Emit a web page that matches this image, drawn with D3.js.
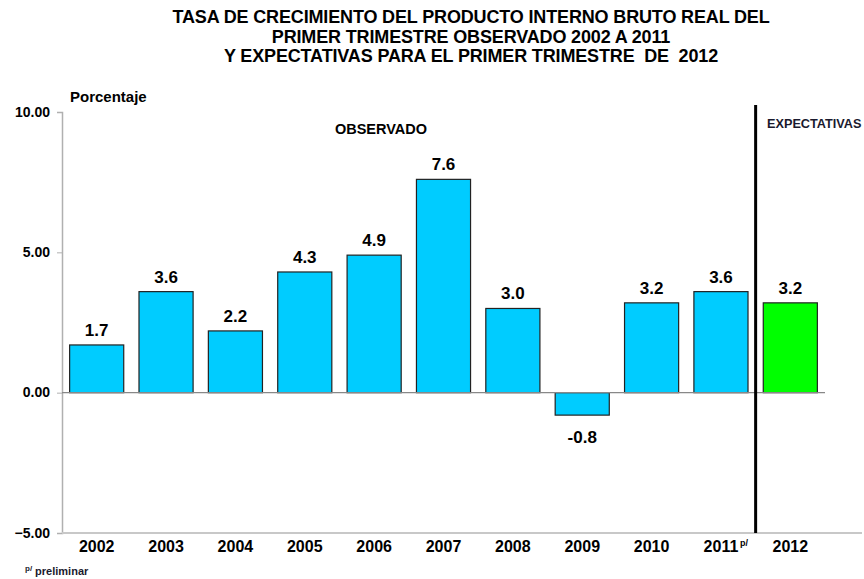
<!DOCTYPE html>
<html>
<head>
<meta charset="utf-8">
<script src="https://cdn.jsdelivr.net/npm/d3@7"></script>
<style>
  body { margin: 0; background: #fff; }
  svg { display: block; font-family: "Liberation Sans", Arial, sans-serif; }
</style>
</head>
<body>
<div id="chart"></div>
<script>
// data
const years = ["2002", "2003", "2004", "2005", "2006", "2007", "2008", "2009", "2010", "2011", "2012"];
const growth = [1.7, 3.6, 2.2, 4.3, 4.9, 7.6, 3.0, -0.8, 3.2, 3.6, 3.2];
const kind = ["obs", "obs", "obs", "obs", "obs", "obs", "obs", "obs", "obs", "obs", "exp"];
const yTicks = [10, 5, 0, -5];
const titleLines = [
    "TASA DE CRECIMIENTO DEL PRODUCTO INTERNO BRUTO REAL DEL",
    "PRIMER TRIMESTRE OBSERVADO 2002 A 2011",
    "Y EXPECTATIVAS PARA EL PRIMER TRIMESTRE  DE  2012"
];

const W = 864, H = 579;
const margin = { top: 112, right: 40, bottom: 46, left: 62 };
const width = 825 - margin.left;
const height = H - margin.top - margin.bottom;

const colors = { obs: "#00ccff", exp: "#00ff00" };

const svg = d3.select("#chart")
    .append("svg")
    .attr("width", W)
    .attr("height", H);

// title
svg.append("g")
    .selectAll("text")
    .data(titleLines)
    .enter()
    .append("text")
    .attr("x", 471)
    .attr("y", (d, i) => 23 + i * 19.5)
    .attr("text-anchor", "middle")
    .style("font-size", "18px")
    .style("font-weight", "bold")
    .style("letter-spacing", "-0.15px")
    .style("white-space", "pre")
    .text(d => d);

const g = svg.append("g")
    .attr("transform", `translate(${margin.left},${margin.top})`);

const x = d3.scaleBand()
    .domain(years)
    .range([0, width])
    .paddingInner(0.22)
    .paddingOuter(0.11);

const y = d3.scaleLinear()
    .domain([-5, 10])
    .range([height, 0]);

// y axis
const yAxis = d3.axisLeft(y)
    .tickValues(yTicks)
    .tickFormat(d3.format(".2f"))
    .tickSize(5)
    .tickPadding(7);

const ya = g.append("g").call(yAxis);
ya.select(".domain").attr("stroke", "#b0b0b0").attr("stroke-width", 1.5);
ya.selectAll(".tick line").attr("stroke", "#b0b0b0");
ya.selectAll(".tick text")
    .style("font-size", "14px")
    .style("font-weight", "bold")
    .attr("fill", "#000")
    .attr("dy", "0.3em");

// bottom line (at -5)
g.append("line")
    .attr("x1", 0)
    .attr("x2", 862 - margin.left)
    .attr("y1", y(-5))
    .attr("y2", y(-5))
    .attr("stroke", "#c8c8c8")
    .attr("stroke-width", 2);

// x labels
const xa = g.append("g")
    .attr("transform", `translate(0,${height})`)
    .call(d3.axisBottom(x).tickSize(0).tickPadding(8));
xa.select(".domain").remove();
xa.selectAll(".tick text")
    .style("font-size", "16px")
    .style("font-weight", "bold")
    .attr("fill", "#000");

// superscript p/ on 2011
xa.selectAll(".tick")
    .filter(d => d === "2011")
    .append("text")
    .attr("x", 23)
    .attr("y", 13)
    .attr("fill", "#000")
    .style("font-size", "9px")
    .style("font-weight", "bold")
    .text("p/");

// bars
g.selectAll("rect.bar")
    .data(years)
    .enter()
    .append("rect")
    .attr("class", "bar")
    .attr("x", d => x(d))
    .attr("width", x.bandwidth())
    .attr("y", (d, i) => y(Math.max(0, growth[i])))
    .attr("height", (d, i) => Math.abs(y(growth[i]) - y(0)))
    .attr("fill", (d, i) => colors[kind[i]])
    .attr("stroke", "#222")
    .attr("stroke-width", 1.2);

// zero line
g.append("line")
    .attr("x1", 0)
    .attr("x2", x.range()[1])
    .attr("y1", y(0))
    .attr("y2", y(0))
    .attr("stroke", "#888")
    .attr("stroke-width", 1.3);

// value labels
g.selectAll("text.val")
    .data(years)
    .enter()
    .append("text")
    .attr("class", "val")
    .attr("x", d => x(d) + x.bandwidth() / 2)
    .attr("y", (d, i) => growth[i] >= 0 ? y(growth[i]) - 9 : y(growth[i]) + 28)
    .attr("text-anchor", "middle")
    .style("font-size", "17px")
    .style("font-weight", "bold")
    .text((d, i) => growth[i].toFixed(1));

// divider between observed and expected
const divX = (x("2011") + x.bandwidth() + x("2012")) / 2;
g.append("line")
    .attr("x1", divX)
    .attr("x2", divX)
    .attr("y1", -7)
    .attr("y2", height)
    .attr("stroke", "#000")
    .attr("stroke-width", 3);

g.append("text")
    .attr("x", 381 - margin.left)
    .attr("y", 134 - margin.top)
    .attr("text-anchor", "middle")
    .style("font-size", "14.5px")
    .style("font-weight", "bold")
    .text("OBSERVADO");

g.append("text")
    .attr("x", 767 - margin.left)
    .attr("y", 128 - margin.top)
    .style("font-size", "12.7px")
    .style("font-weight", "bold")
    .attr("fill", "#1a1a2e")
    .text("EXPECTATIVAS");

// y axis title
svg.append("text")
    .attr("x", 70)
    .attr("y", 102)
    .style("font-size", "15px")
    .style("font-weight", "bold")
    .text("Porcentaje");

// footnote
const foot = svg.append("text")
    .attr("x", 25)
    .attr("y", 575)
    .style("font-size", "11px")
    .style("font-weight", "bold")
    .attr("fill", "#1a1a2e");
foot.append("tspan").attr("dy", "-4").style("font-size", "8px").text("p/");
foot.append("tspan").attr("dy", "4").attr("dx", "3").text("preliminar");
</script>
</body>
</html>
